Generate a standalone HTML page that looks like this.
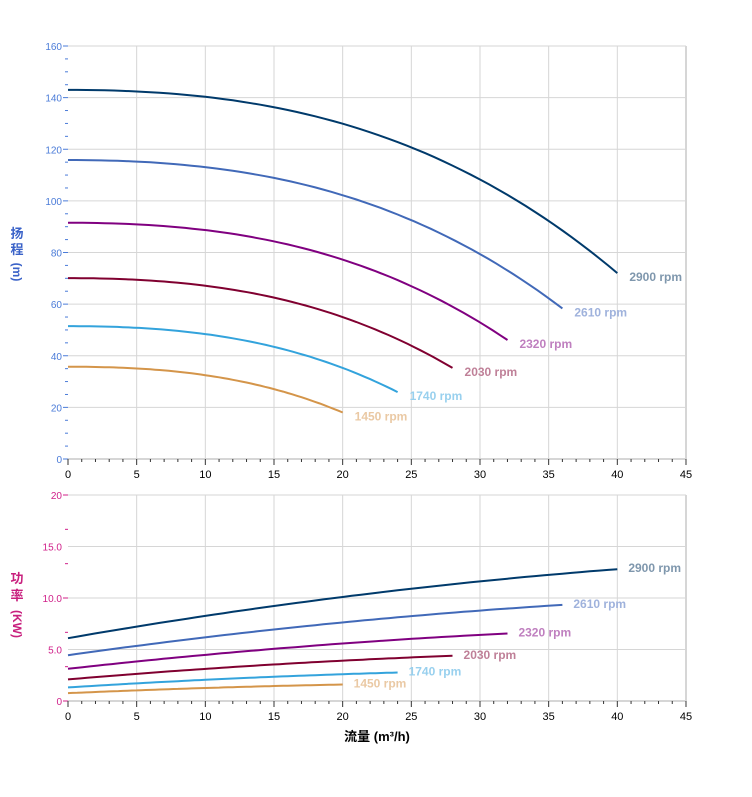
<!DOCTYPE html><html><head><meta charset="utf-8"><style>body{margin:0;background:#fff}svg{display:block;font-family:"Liberation Sans","Noto Sans CJK SC",sans-serif}</style></head><body>
<svg id="s" width="752" height="797" xmlns="http://www.w3.org/2000/svg">
<text x="17" y="238" font-size="13" font-weight="bold" fill="#3a62c8" text-anchor="middle">扬</text>
<text x="17" y="254" font-size="13" font-weight="bold" fill="#3a62c8" text-anchor="middle">程</text>
<text x="17" y="276" font-size="12" font-weight="bold" fill="#3a62c8" text-anchor="middle" transform="rotate(90 17 272)">(m)</text>
<text x="17" y="583" font-size="13" font-weight="bold" fill="#c8207e" text-anchor="middle">功</text>
<text x="17" y="600" font-size="13" font-weight="bold" fill="#c8207e" text-anchor="middle">率</text>
<text x="17" y="628" font-size="12" font-weight="bold" fill="#c8207e" text-anchor="middle" transform="rotate(90 17 624)">(KW)</text>
<text x="377" y="741" font-size="13" font-weight="bold" fill="#000" text-anchor="middle">流量 (m³/h)</text>
</svg>
<script>
const s=document.getElementById('s'),NS='http://www.w3.org/2000/svg';
function el(t,a,txt){const e=document.createElementNS(NS,t);for(const k in a)e.setAttribute(k,a[k]);if(txt!=null)e.textContent=txt;s.appendChild(e);return e;}
const X=q=>68+q*13.733;
function axes(top,bot,max,step,minor,labels,yc){
  const Y=v=>bot-(bot-top)*v/max;
  for(let q=5;q<=45;q+=5)el('line',{x1:X(q),x2:X(q),y1:top,y2:bot,stroke:'#d6d6d6'});
  for(let v=step;v<=max;v+=step)el('line',{x1:68,x2:686,y1:Y(v),y2:Y(v),stroke:'#d6d6d6'});
  el('line',{x1:686,x2:686,y1:top,y2:bot,stroke:'#d6d6d6','stroke-width':2});
  el('line',{x1:68,x2:686,y1:bot,y2:bot,stroke:'#d6d6d6','stroke-width':2});
  for(let v=0;v<=max+1e-6;v+=minor){const mj=Math.abs(v/step-Math.round(v/step))<1e-6;el('line',{x1:mj?63:65,x2:68,y1:Y(v),y2:Y(v),stroke:yc,'stroke-width':1});}
  labels.forEach((l,i)=>el('text',{x:62,y:Y(i*step)+4,'font-size':10,fill:yc,'text-anchor':'end'},l));
  for(let q=0;q<=45;q++){el('line',{x1:X(q),x2:X(q),y1:bot,y2:bot+(q%5?3:6),stroke:'#333'});}
  for(let q=0;q<=45;q+=5)el('text',{x:X(q),y:bot+19,'font-size':11,fill:'#000','text-anchor':'middle'},q);
  return Y;
}
const Yt=axes(46,459,160,20,5,['0','20','40','60','80','100','120','140','160'],'#4a7bd8');
const Yb=axes(495,701,20,5,20/6,['0','5.0','10.0','15.0','20'],'#d0218a');
const sp=[[2900,1,'#003a6b','#7f97ad'],[2610,.9,'#4169b8','#9fb2dc'],[2320,.8,'#800080','#bf7fbf'],[2030,.7,'#800030','#bf8098'],[1740,.6,'#33a3dc','#98d0ee'],[1450,.5,'#d4954a','#eac9a4']];
const H=q=>143-0.0212*q*q-0.000579*q*q*q, P=q=>6.1+0.2325*q-0.001625*q*q;
sp.forEach(([n,r,c,lc])=>{
  let d1='',d2='';const qm=40*r;
  for(let i=0;i<=60;i++){const q=qm*i/60;const h=r*r*H(q/r),p=r*r*r*P(q/r);
    d1+=(i?'L':'M')+X(q).toFixed(1)+' '+Yt(h).toFixed(1);d2+=(i?'L':'M')+X(q).toFixed(1)+' '+Yb(p).toFixed(1);}
  el('path',{d:d1,fill:'none',stroke:c,'stroke-width':2});
  el('path',{d:d2,fill:'none',stroke:c,'stroke-width':2});
  const he=r*r*H(40),pe=r*r*r*P(40);
  el('text',{x:X(qm)+12,y:Yt(he)+8,'font-size':12,'font-weight':'bold',fill:lc},n+' rpm');
  el('text',{x:X(qm)+11,y:Yb(pe)+3,'font-size':12,'font-weight':'bold',fill:lc},n+' rpm');
});
</script></body></html>
